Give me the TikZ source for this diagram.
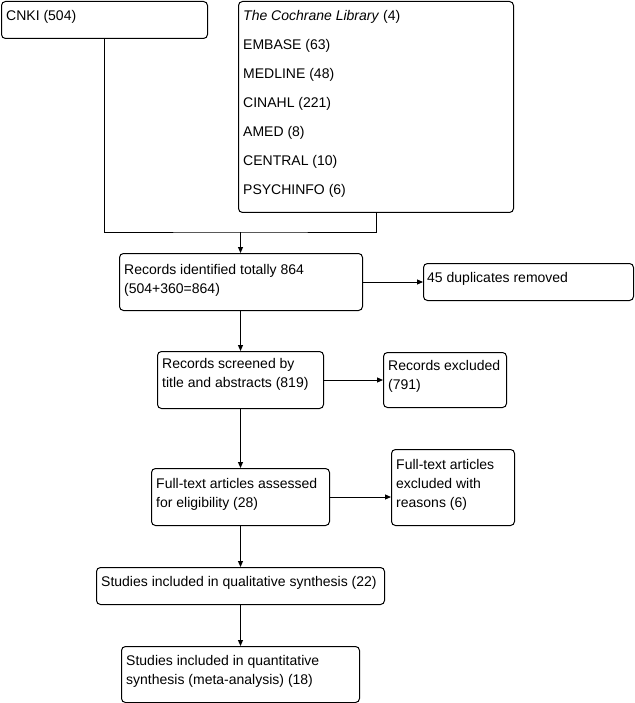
\documentclass[tikz,border=0pt]{standalone}
\usepackage{fontspec}
\setmainfont{Liberation Sans}
\usetikzlibrary{arrows.meta}
\begin{document}
\begin{tikzpicture}[x=1pt,y=-1pt,
  box/.style={draw, rounded corners=4pt, line width=1pt, inner sep=0pt, anchor=north west},
  txt/.style={inner sep=0pt, anchor=base west, font=\fontsize{14}{19}\selectfont},
  arr/.style={-{Triangle[length=6pt,width=5pt]}, line width=1pt},
  conn/.style={line width=1pt}]
\useasboundingbox (0,0) rectangle (634,703);
\newcommand\bx[5]{\node[box,minimum width=#4pt,minimum height=#5pt] (#1) at (#2,#3) {};}
\bx{cnki}{1}{1}{206}{37}
\bx{db}{238}{1}{275}{211}
\bx{recid}{119}{253}{243}{57}
\bx{dup}{423}{263}{210}{37}
\bx{screen}{157}{351}{166}{57}
\bx{excl}{383}{352}{123}{55}
\bx{full}{151}{468}{178}{57}
\bx{fexcl}{391}{449}{123}{76}
\bx{qual}{96}{567}{288}{37}
\bx{quant}{121}{646}{238}{56}
% texts
\node[txt] (t1) at (6,21) {CNKI (504)};
\node[txt] (t2) at (243,21) {\textit{The Cochrane Library} (4)};
\node[txt] (t3) at (243,50) {EMBASE (63)};
\node[txt] (t4) at (243,79) {MEDLINE (48)};
\node[txt] (t5) at (243,108) {CINAHL (221)};
\node[txt] (t6) at (243,137) {AMED (8)};
\node[txt] (t7) at (243,166) {CENTRAL (10)};
\node[txt] (t8) at (243,195) {PSYCHINFO (6)};
\node[txt] (t9) at (124,274) {Records identified totally 864};
\node[txt] (t10) at (124,293) {(504+360=864)};
\node[txt] (t11) at (427,282) {45 duplicates removed};
\node[txt] (t12) at (162,368) {Records screened by};
\node[txt] (t13) at (162,387) {title and abstracts (819)};
\node[txt] (t14) at (388,370) {Records excluded};
\node[txt] (t15) at (388,389) {(791)};
\node[txt] (t16) at (156,488) {Full-text articles assessed};
\node[txt] (t17) at (156,507) {for eligibility (28)};
\node[txt] (t18) at (396,469) {Full-text articles};
\node[txt] (t19) at (396,488) {excluded with};
\node[txt] (t20) at (396,507) {reasons (6)};
\node[txt] (t21) at (101,586) {Studies included in qualitative synthesis (22)};
\node[txt] (t22) at (126,665) {Studies included in quantitative};
\node[txt] (t23) at (126,684) {synthesis (meta-analysis) (18)};
% connectors
\coordinate (col) at (240.5,0);
\coordinate (join) at (240.5,232);
\draw[conn] (cnki.south) |- (join) -| (db.south);
\draw[arr] (join) -- (recid.north -| col);
\draw[arr] (recid.east) -- (dup.west |- recid.east);
\draw[arr] (recid.south -| col) -- (screen.north -| col);
\draw[arr] (screen.east) -- (excl.west |- screen.east);
\draw[arr] (screen.south -| col) -- (full.north -| col);
\draw[arr] (full.east) -- (fexcl.west |- full.east);
\draw[arr] (full.south -| col) -- (qual.north -| col);
\draw[arr] (qual.south -| col) -- (quant.north -| col);
\end{tikzpicture}
\end{document}
